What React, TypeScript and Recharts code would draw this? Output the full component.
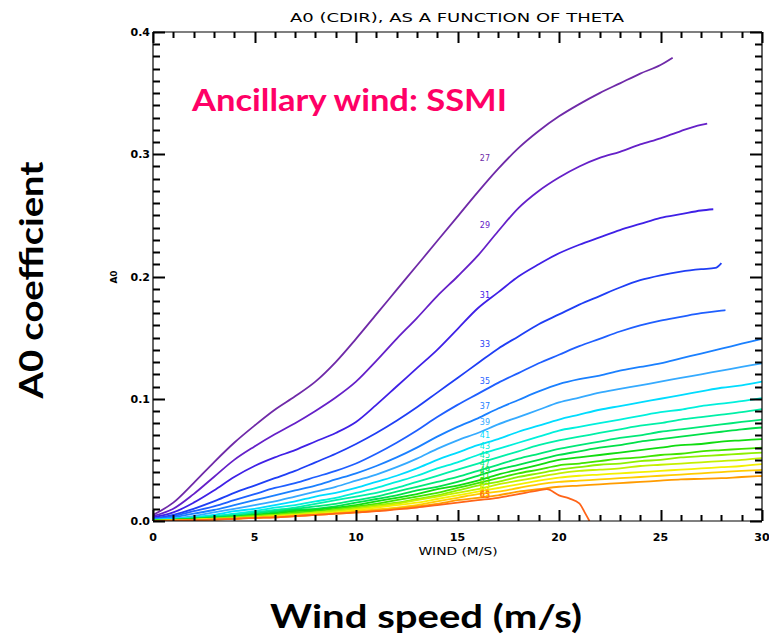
import { ComposedChart, Line, XAxis, YAxis, ReferenceDot } from 'recharts';

// wind speed grid (m/s)
const WIND = [0, 1, 2, 3, 4, 5, 6, 7, 8, 9, 10, 11, 12, 13, 14, 15, 16, 17, 18, 19, 20, 21, 22, 23, 24, 25, 26, 27, 28, 29, 30];

// incidence angles, one curve each
const THETA = [27, 29, 31, 33, 35, 37, 39, 41, 43, 45, 47, 49, 51, 53, 55, 57, 59, 61, 63, 65];

const COLORS = [
  '#6f2aa8', '#6520c8', '#3f20e6', '#1f3ef5', '#1f5fff', '#1a80ff', '#35aaff', '#00dcff', '#00f0dc', '#00f0a8',
  '#00e878', '#00e048', '#10dc10', '#40e400', '#8ef000', '#c4f000', '#f4f000', '#ffcc00', '#ff9c00', '#ff6418',
];

const A0_27 = [0.005, 0.015, 0.031, 0.048, 0.064, 0.078, 0.091, 0.102, 0.114, 0.130, 0.149, 0.169, 0.189, 0.209, 0.229, 0.249, 0.269, 0.288, 0.305, 0.319, 0.331, 0.341, 0.350, 0.358, 0.366, 0.373];
const A0_29 = [0.004, 0.010, 0.022, 0.036, 0.050, 0.061, 0.071, 0.080, 0.090, 0.101, 0.114, 0.131, 0.149, 0.166, 0.184, 0.200, 0.217, 0.237, 0.256, 0.270, 0.281, 0.290, 0.297, 0.302, 0.308, 0.313, 0.319, 0.324];
const A0_31 = [0.003, 0.007, 0.015, 0.025, 0.036, 0.045, 0.052, 0.058, 0.065, 0.072, 0.081, 0.095, 0.110, 0.125, 0.140, 0.157, 0.174, 0.187, 0.200, 0.210, 0.219, 0.226, 0.232, 0.238, 0.243, 0.248, 0.251, 0.254];
const A0_33 = [0.002, 0.005, 0.010, 0.016, 0.023, 0.029, 0.035, 0.041, 0.048, 0.055, 0.063, 0.072, 0.082, 0.093, 0.105, 0.117, 0.129, 0.141, 0.151, 0.161, 0.169, 0.177, 0.184, 0.191, 0.197, 0.201, 0.204, 0.206];
const A0_35 = [0.002, 0.004, 0.008, 0.012, 0.017, 0.022, 0.027, 0.031, 0.036, 0.041, 0.047, 0.055, 0.064, 0.074, 0.085, 0.095, 0.104, 0.113, 0.121, 0.129, 0.136, 0.143, 0.149, 0.155, 0.160, 0.164, 0.167, 0.170, 0.172];
const A0_37 = [0.001, 0.003, 0.006, 0.009, 0.013, 0.017, 0.021, 0.025, 0.029, 0.034, 0.039, 0.045, 0.052, 0.060, 0.069, 0.077, 0.084, 0.092, 0.099, 0.106, 0.112, 0.116, 0.119, 0.123, 0.126, 0.129, 0.133, 0.137, 0.141, 0.145, 0.149];
const A0_39 = [0.001, 0.002, 0.004, 0.007, 0.010, 0.013, 0.016, 0.020, 0.024, 0.028, 0.033, 0.038, 0.044, 0.051, 0.059, 0.066, 0.072, 0.079, 0.085, 0.091, 0.097, 0.101, 0.105, 0.108, 0.111, 0.114, 0.117, 0.120, 0.123, 0.126, 0.129];
const A0_41 = [0.001, 0.002, 0.003, 0.005, 0.008, 0.010, 0.013, 0.016, 0.020, 0.023, 0.027, 0.032, 0.037, 0.043, 0.050, 0.056, 0.062, 0.067, 0.073, 0.078, 0.083, 0.087, 0.091, 0.094, 0.097, 0.100, 0.103, 0.106, 0.109, 0.111, 0.114];
const A0_43 = [0.0005, 0.001, 0.003, 0.004, 0.006, 0.008, 0.011, 0.013, 0.016, 0.019, 0.023, 0.027, 0.032, 0.037, 0.043, 0.048, 0.054, 0.059, 0.064, 0.069, 0.074, 0.077, 0.080, 0.083, 0.086, 0.089, 0.091, 0.094, 0.096, 0.098, 0.1005];
const A0_45 = [0.0005, 0.001, 0.002, 0.004, 0.005, 0.007, 0.009, 0.011, 0.014, 0.017, 0.020, 0.023, 0.027, 0.032, 0.037, 0.042, 0.047, 0.052, 0.057, 0.062, 0.066, 0.069, 0.072, 0.075, 0.078, 0.080, 0.083, 0.085, 0.087, 0.089, 0.0915];
const A0_47 = [0.0003, 0.001, 0.002, 0.003, 0.004, 0.006, 0.008, 0.010, 0.012, 0.014, 0.017, 0.020, 0.024, 0.028, 0.032, 0.036, 0.041, 0.046, 0.051, 0.055, 0.059, 0.062, 0.065, 0.068, 0.070, 0.073, 0.075, 0.077, 0.079, 0.081, 0.083];
const A0_49 = [0.0003, 0.001, 0.002, 0.003, 0.004, 0.005, 0.007, 0.009, 0.010, 0.012, 0.015, 0.018, 0.021, 0.025, 0.028, 0.032, 0.037, 0.042, 0.046, 0.050, 0.054, 0.057, 0.060, 0.062, 0.065, 0.067, 0.069, 0.071, 0.073, 0.075, 0.0765];
const A0_51 = [0.0002, 0.001, 0.002, 0.002, 0.003, 0.005, 0.006, 0.008, 0.009, 0.011, 0.013, 0.016, 0.019, 0.022, 0.026, 0.029, 0.033, 0.038, 0.042, 0.046, 0.050, 0.052, 0.054, 0.056, 0.058, 0.060, 0.062, 0.063, 0.065, 0.066, 0.067];
const A0_53 = [0.0002, 0.001, 0.001, 0.002, 0.003, 0.004, 0.005, 0.007, 0.008, 0.010, 0.012, 0.014, 0.017, 0.020, 0.023, 0.027, 0.031, 0.035, 0.039, 0.042, 0.0455, 0.047, 0.049, 0.051, 0.052, 0.054, 0.055, 0.057, 0.058, 0.059, 0.060];
const A0_55 = [0.0001, 0.0005, 0.001, 0.002, 0.003, 0.004, 0.005, 0.006, 0.007, 0.009, 0.011, 0.013, 0.015, 0.018, 0.021, 0.025, 0.029, 0.032, 0.036, 0.039, 0.042, 0.044, 0.046, 0.047, 0.049, 0.050, 0.052, 0.053, 0.054, 0.055, 0.056];
const A0_57 = [0.0001, 0.0005, 0.001, 0.002, 0.002, 0.003, 0.004, 0.005, 0.007, 0.008, 0.010, 0.012, 0.014, 0.017, 0.020, 0.023, 0.026, 0.030, 0.033, 0.036, 0.039, 0.041, 0.042, 0.043, 0.045, 0.046, 0.047, 0.048, 0.049, 0.050, 0.0515];
const A0_59 = [0, 0.0004, 0.001, 0.0015, 0.002, 0.003, 0.004, 0.005, 0.006, 0.007, 0.009, 0.011, 0.013, 0.015, 0.018, 0.021, 0.024, 0.027, 0.030, 0.033, 0.0355, 0.037, 0.038, 0.039, 0.040, 0.041, 0.042, 0.043, 0.044, 0.045, 0.0465];
const A0_61 = [0, 0.0003, 0.001, 0.0013, 0.002, 0.0027, 0.0035, 0.0045, 0.0055, 0.0065, 0.008, 0.0095, 0.011, 0.013, 0.016, 0.019, 0.022, 0.024, 0.027, 0.030, 0.032, 0.033, 0.034, 0.035, 0.036, 0.037, 0.038, 0.039, 0.040, 0.041, 0.0417];
const A0_63 = [0, 0.0003, 0.0008, 0.0012, 0.0018, 0.0025, 0.003, 0.004, 0.005, 0.006, 0.007, 0.0085, 0.010, 0.012, 0.014, 0.017, 0.019, 0.021, 0.024, 0.026, 0.028, 0.029, 0.030, 0.031, 0.032, 0.033, 0.034, 0.0345, 0.035, 0.036, 0.0368];
const A0_65 = [0, 0.0003, 0.0007, 0.0012, 0.0018, 0.0025, 0.003, 0.004, 0.005, 0.006, 0.007, 0.008, 0.0095, 0.011, 0.013, 0.015, 0.017, 0.019, 0.022, 0.025];

const A0 = [A0_27, A0_29, A0_31, A0_33, A0_35, A0_37, A0_39, A0_41, A0_43, A0_45, A0_47, A0_49, A0_51, A0_53, A0_55, A0_57, A0_59, A0_61, A0_63, A0_65];

// last points of the curves that stop off the 1 m/s grid
const TAIL_WIND = [[25.6], [27.3], [27.6], [27.7, 28.0], [28.2], [], [], [], [], [], [], [], [], [], [], [], [], [], [], [19.4, 20, 20.5, 21, 21.3, 21.5]];
const TAIL_A0 = [[0.379], [0.325], [0.255], [0.207, 0.211], [0.1725], [], [], [], [], [], [], [], [], [], [], [], [], [], [], [0.026, 0.021, 0.0185, 0.0145, 0.006, 0]];

// where the theta labels sit
const LABEL_WIND = 16.35;
const LABEL_A0 = [0.2968, 0.242, 0.1848, 0.1447, 0.1145, 0.094, 0.081, 0.0703, 0.0613, 0.054, 0.0474, 0.0417, 0.0368, 0.0327, 0.0294, 0.027, 0.025, 0.0233, 0.022, 0.0209];

const X_TICKS = WIND;
const Y_TICKS = Array.from({ length: 41 }, (_, i) => i / 100);

const series = THETA.map((theta, i) => ({
  theta,
  color: COLORS[i],
  data: [
    ...A0[i].map((v, j) => ({ w: WIND[j], a0: v })),
    ...TAIL_WIND[i].map((w, j) => ({ w, a0: TAIL_A0[i][j] })),
  ],
}));

// plot box, used for the inward IDL tick marks of the frame
const BOX = { left: 153, right: 762, top: 32, bottom: 521 };
const xPix = (w: number) => BOX.left + ((BOX.right - BOX.left) * w) / 30;
const yPix = (v: number) => BOX.bottom - ((BOX.bottom - BOX.top) * v) / 0.4;

const tickFont = { fontFamily: 'DejaVu Sans', fontSize: 11, fontWeight: 'bold' as const, fill: '#000' };
const isMajorX = (w: number) => w % 5 === 0;
const isMajorY = (v: number) => Math.round(v * 100) % 10 === 0;

const BottomLabel = (p: any) => {
  const { x, y, payload } = p;
  if (!isMajorX(payload.value)) return <g />;
  return (
    <text x={x} y={y + 20} textAnchor="middle" {...tickFont}>
      {payload.value}
    </text>
  );
};

const LeftLabel = (p: any) => {
  const { x, y, payload } = p;
  if (!isMajorY(payload.value)) return <g />;
  return (
    <text x={x - 3} y={y + 4} textAnchor="end" {...tickFont}>
      {payload.value.toFixed(1)}
    </text>
  );
};

function FrameTicks() {
  const d: string[] = [];
  X_TICKS.forEach((w) => {
    const x = Math.round(xPix(w)) + 0.5;
    const len = isMajorX(w) ? 11 : 6;
    d.push(`M${x},${BOX.bottom}V${BOX.bottom - len}`, `M${x},${BOX.top}V${BOX.top + len}`);
  });
  Y_TICKS.forEach((v) => {
    const y = Math.round(yPix(v)) + 0.5;
    const len = isMajorY(v) ? 12 : 7;
    d.push(`M${BOX.left},${y}H${BOX.left + len}`, `M${BOX.right},${y}H${BOX.right - len}`);
  });
  return <path d={d.join(' ')} stroke="#000" strokeWidth={2} fill="none" />;
}

export default function App() {
  return (
    <div style={{ position: 'absolute', left: 0, top: 0, width: 769, height: 640, background: '#fff' }}>
      <ComposedChart width={769} height={640} margin={{ top: 31, right: 6, bottom: 118, left: 152 }}>
        <XAxis xAxisId="b" type="number" dataKey="w" domain={[0, 30]} ticks={X_TICKS} interval={0}
          allowDataOverflow height={1} tickSize={0} tickMargin={0} tickLine={false}
          axisLine={{ stroke: '#000', strokeWidth: 1.2 }} tick={BottomLabel} />
        <XAxis xAxisId="t" orientation="top" type="number" domain={[0, 30]} ticks={X_TICKS} interval={0}
          allowDataOverflow height={1} tickLine={false} axisLine={{ stroke: '#000', strokeWidth: 1.2 }} tick={false} />
        <YAxis yAxisId="l" type="number" domain={[0, 0.4]} ticks={Y_TICKS} interval={0}
          allowDataOverflow width={1} tickSize={0} tickMargin={0} tickLine={false}
          axisLine={{ stroke: '#000', strokeWidth: 1.2 }} tick={LeftLabel} />
        <YAxis yAxisId="r" orientation="right" type="number" domain={[0, 0.4]} ticks={Y_TICKS} interval={0}
          allowDataOverflow width={1} tickLine={false} axisLine={{ stroke: '#000', strokeWidth: 1.2 }} tick={false} />
        {series.map((s) => (
          <Line key={s.theta} xAxisId="b" yAxisId="l" data={s.data} dataKey="a0" type="monotone"
            stroke={s.color} strokeWidth={1.8} dot={false} activeDot={false} isAnimationActive={false} />
        ))}
        {series.map((s, i) => (
          <ReferenceDot key={'lab' + s.theta} xAxisId="b" yAxisId="l" x={LABEL_WIND} y={LABEL_A0[i]} r={0}
            shape={(p: any) => (
              <text x={p.cx} y={p.cy + 3} textAnchor="middle" fontFamily="DejaVu Sans" fontSize={8} fill={s.color}>
                {s.theta}
              </text>
            )} />
        ))}
      </ComposedChart>
      <svg width={769} height={640} style={{ position: 'absolute', left: 0, top: 0, pointerEvents: 'none' }}>
        <FrameTicks />
        <text x={457} y={22} textAnchor="middle" fontFamily="DejaVu Sans" fontSize={13}
          textLength={334} lengthAdjust="spacingAndGlyphs" fill="#000">
          A0 (CDIR), AS A FUNCTION OF THETA
        </text>
        <text x={192} y={111} fontFamily="Lato" fontWeight="bold" fontSize={31} fill="#ff0066"
          textLength={315} lengthAdjust="spacingAndGlyphs">
          Ancillary wind: SSMI
        </text>
        <text x={458} y={555} textAnchor="middle" fontFamily="DejaVu Sans" fontSize={10} fill="#000"
          textLength={79} lengthAdjust="spacingAndGlyphs">
          WIND (M/S)
        </text>
        <text x={0} y={0} transform="translate(117,277) rotate(-90)" textAnchor="middle"
          fontFamily="DejaVu Sans" fontWeight="bold" fontSize={9} fill="#000">
          A0
        </text>
        <text x={0} y={0} transform="translate(43,280) rotate(-90)" textAnchor="middle"
          fontFamily="Lato" fontWeight="bold" fontSize={33} fill="#000"
          textLength={237} lengthAdjust="spacingAndGlyphs">
          A0 coefficient
        </text>
        <text x={426} y={628} textAnchor="middle" fontFamily="Lato" fontWeight="bold" fontSize={33} fill="#000"
          textLength={312} lengthAdjust="spacingAndGlyphs">
          Wind speed (m/s)
        </text>
      </svg>
    </div>
  );
}
